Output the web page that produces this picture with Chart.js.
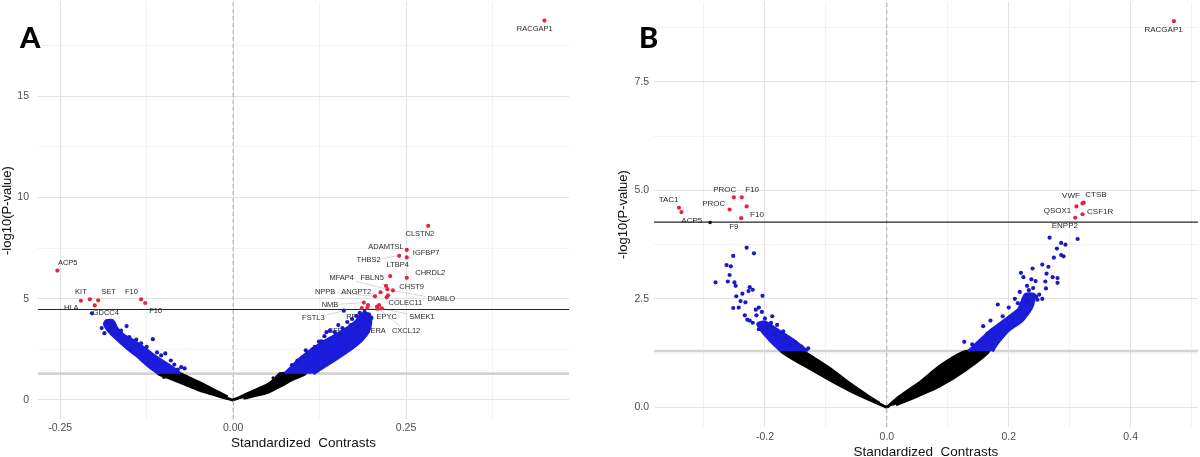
<!DOCTYPE html>
<html>
<head>
<meta charset="utf-8">
<script src="https://cdn.jsdelivr.net/npm/chart.js@4.4.1/dist/chart.umd.min.js"></script>
<style>
html,body{margin:0;padding:0;background:#fff;}
#wrap{position:relative;width:1200px;height:457px;overflow:hidden;}
.panel{position:absolute;top:0;width:600px;height:457px;}
.tag{position:absolute;top:22px;font:900 29px/29px Lato,"Open Sans","DejaVu Sans",sans-serif;color:#000;}
</style>
</head>
<body>
<div id="wrap">
  <div class="panel" style="left:0"><canvas id="cA" width="600" height="457"></canvas></div>
  <div class="panel" style="left:600px"><canvas id="cB" width="600" height="457"></canvas></div>
  <div class="tag" style="left:20px">A</div>
  <div class="tag" style="left:639px">B</div>
</div>
<script>
// ---------- panel A ----------
const aXRange = [-0.282, 0.4855];
const aYRange = [-0.94, 19.65];
const aXGrid = [-0.25, -0.125, 0, 0.125, 0.25, 0.375];
const aXTicks = [-0.25, 0, 0.25];
const aXTickText = ['-0.25', '0.00', '0.25'];
const aYGrid = [0, 2.5, 5, 7.5, 10, 12.5, 15, 17.5];
const aYTicks = [0, 5, 10, 15];
const aYTickText = ['0', '5', '10', '15'];
const aSigLine = 4.47;
const aNomLine = 1.3;
const aRed = [[0.45,18.74],[-0.254,6.39],[-0.220,4.90],[-0.207,4.97],[-0.200,4.67],[-0.195,4.92],[-0.133,4.97],[-0.127,4.79],
  [0.282,8.6],[0.251,7.41],[0.240,7.12],[0.251,7.04],[0.227,6.12],[0.251,6.03],[0.221,5.63],[0.223,5.47],[0.231,5.41],
  [0.224,5.17],[0.222,5.07],[0.213,5.32],[0.205,5.12],[0.189,4.81],[0.195,4.69],[0.186,4.54],[0.194,4.55],[0.208,4.61],
  [0.211,4.68],[0.215,4.53],[0.209,4.51]];
const aBlue = [[-0.204,4.28],[-0.183,3.87],[-0.178,3.8],[-0.176,3.6],[-0.18,3.5],[-0.172,3.75],[-0.154,3.65],[-0.162,3.42],
  [-0.116,3.0],[-0.14,2.98],[-0.133,2.8],[-0.125,2.62],[-0.098,2.3],[-0.11,2.35],[-0.104,2.2],[-0.09,1.95],[-0.085,1.75],
  [-0.075,1.62],[-0.07,1.56],[-0.08,1.5],[-0.15,3.1],[-0.166,3.25],[-0.186,3.3],[-0.19,3.55],
  [0.124,2.88],[0.16,4.41],[0.152,3.7],[0.14,3.42],[0.132,3.15],[0.118,2.62],[0.105,2.45],[0.1,2.1],[0.093,1.95],
  [0.085,1.72],[0.165,3.85],[0.172,4.0],[0.178,4.15],[0.183,4.3],[0.19,4.35],[0.194,4.22],[0.188,4.05],[0.158,3.55],
  [0.147,3.35],[0.17,3.7],[0.155,3.2],[0.18,3.6],[0.108,2.2],[0.115,2.5],[0.128,2.9],[0.135,3.35],[0.2,4.05],[0.196,3.95]];
const aBlack = [[-0.1,1.12],[0.07,1.24],[0.058,1.08]];
// dense clouds traced as outlines
const aBlueCloudL = [[-0.108,1.3],[-0.125,1.75],[-0.14,2.2],[-0.155,2.6],[-0.168,3.0],[-0.18,3.4],[-0.186,3.75],[-0.183,3.92],
  [-0.174,3.92],[-0.168,3.55],[-0.158,3.2],[-0.145,2.95],[-0.128,2.55],[-0.11,2.1],[-0.092,1.7],[-0.076,1.3]];
const aBlueCloudR = [[0.075,1.3],[0.082,1.55],[0.092,1.9],[0.106,2.3],[0.125,2.75],[0.145,3.15],[0.165,3.55],[0.178,3.9],
  [0.186,4.25],[0.197,4.25],[0.199,3.85],[0.196,3.4],[0.186,2.95],[0.17,2.5],[0.146,1.95],[0.116,1.3]];
const aBlackCloudL = [[0,0],[-0.015,0.13],[-0.03,0.29],[-0.05,0.5],[-0.07,0.78],[-0.09,1.05],[-0.108,1.3],[-0.077,1.3],
  [-0.065,1.12],[-0.05,0.88],[-0.035,0.62],[-0.02,0.36],[-0.008,0.15]];
const aBlackCloudR = [[0,0],[0.012,0.17],[0.03,0.45],[0.05,0.76],[0.06,1.02],[0.068,1.3],[0.104,1.3],[0.085,1.0],
  [0.07,0.72],[0.05,0.38],[0.03,0.2],[0.015,0.08]];
// label text, label x, label y, [point x, point y for a connector]
const aLabels = [
  ['RACGAP1',0.436,18.32],['ACP5',-0.239,6.75],['KIT',-0.220,5.32],['SET',-0.180,5.32],['F10',-0.147,5.35],
  ['HLA',-0.234,4.53],['GDCC4',-0.184,4.28],['F10',-0.112,4.39],['CLSTN2',0.270,8.2],['ADAMTSL',0.221,7.54],
  ['IGFBP7',0.279,7.27],['THBS2',0.196,6.9,0.239,7.12],['LTBP4',0.238,6.65],['CHRDL2',0.285,6.29],
  ['MFAP4',0.157,6.04,0.222,5.47],['FBLN5',0.201,6.01,0.221,5.63],['CHST9',0.258,5.6],
  ['NPPB',0.133,5.35,0.205,5.12],['ANGPT2',0.178,5.35,0.208,5.2],['DIABLO',0.301,4.97,0.231,5.41],
  ['COLEC11',0.249,4.77],['NMB',0.140,4.69,0.189,4.81],['FSTL3',0.116,4.03,0.16,4.41],['RPL14',0.180,4.08],
  ['EPYC',0.222,4.08,0.195,4.69],['SMEK1',0.273,4.08,0.215,4.53],['SFRP4',0.155,3.41],
  ['KERA',0.206,3.41,0.19,4.0],['CXCL12',0.25,3.41,0.211,4.5]];

// ---------- panel B ----------
const bXRange = [-0.382, 0.5103];
const bYRange = [-0.453, 9.34];
const bXGrid = [-0.3, -0.2, -0.1, 0, 0.1, 0.2, 0.3, 0.4, 0.5];
const bXTicks = [-0.2, 0, 0.2, 0.4];
const bXTickText = ['-0.2', '0.0', '0.2', '0.4'];
const bYGrid = [0, 1.25, 2.5, 3.75, 5, 6.25, 7.5, 8.75];
const bYTicks = [0, 2.5, 5, 7.5];
const bYTickText = ['0.0', '2.5', '5.0', '7.5'];
const bSigLine = 4.27;
const bNomLine = 1.3;
const bRed = [[0.471,8.90],[-0.341,4.60],[-0.337,4.50],[-0.251,4.84],[-0.238,4.84],[-0.258,4.56],[-0.230,4.63],
  [-0.239,4.36],[0.311,4.63],[0.321,4.70],[0.323,4.72],[0.321,4.45],[0.309,4.37]];
const bBlack = [[-0.290,4.26]];
const bBlue = [[-0.230,3.68],[-0.218,3.55],[-0.252,3.49],[-0.263,3.28],[-0.256,3.25],[-0.258,3.05],[-0.281,2.88],
  [-0.261,2.90],[-0.250,2.88],[-0.248,2.80],[-0.225,2.77],[-0.220,2.71],[-0.237,2.62],[-0.227,2.68],[-0.247,2.56],
  [-0.252,2.29],[-0.232,2.42],[-0.204,2.57],[-0.233,2.12],[-0.229,2.02],[-0.214,2.12],[-0.188,2.10],[-0.225,2.0],
  [-0.21,2.3],[-0.215,2.25],[-0.205,2.2],[-0.24,2.45],[-0.243,2.3],[-0.19,1.95],[-0.2,2.05],[-0.195,1.85],[-0.18,1.9],
  [-0.17,1.75],[-0.165,1.6],[-0.129,1.36],[-0.14,1.4],[-0.15,1.5],[-0.16,1.45],[-0.185,1.7],[-0.21,1.8],[-0.22,1.95],
  [0.267,3.91],[0.286,3.79],[0.293,3.75],[0.313,3.88],[0.279,3.66],[0.286,3.51],[0.290,3.48],[0.274,3.45],[0.239,3.20],
  [0.255,3.29],[0.265,3.24],[0.262,3.08],[0.280,2.98],[0.280,2.87],[0.224,3.0],[0.237,2.95],[0.244,2.91],[0.220,3.10],
  [0.261,2.74],[0.218,2.66],[0.247,2.48],[0.182,2.37],[0.158,1.87],[0.127,1.51],[0.25,2.6],[0.23,2.8],[0.245,2.55],
  [0.2,2.3],[0.19,2.1],[0.21,2.5],[0.233,2.7],[0.255,2.5],[0.165,1.7],[0.14,1.45],[0.272,3.0],[0.26,2.9],[0.23,2.45],
  [0.24,2.75],[0.215,2.4],[0.17,2.0]];
const bBlueCloudL = [[-0.173,1.29],[-0.192,1.55],[-0.203,1.72],[-0.212,1.92],[-0.2,1.97],[-0.181,1.8],[-0.154,1.56],[-0.13,1.29]];
const bBlueCloudR = [[0.134,1.29],[0.151,1.52],[0.173,1.8],[0.194,2.02],[0.216,2.26],[0.227,2.6],[0.242,2.6],[0.238,2.31],
  [0.222,2.0],[0.2,1.78],[0.181,1.47],[0.173,1.29]];
const bBlackCloudL = [[0,0],[-0.045,0.28],[-0.089,0.6],[-0.132,0.94],[-0.173,1.29],[-0.138,1.29],[-0.116,1.1],[-0.089,0.85],
  [-0.062,0.56],[-0.034,0.29],[-0.012,0.09]];
const bBlackCloudR = [[0,0],[0.02,0.24],[0.053,0.56],[0.085,0.93],[0.115,1.2],[0.129,1.29],[0.167,1.29],[0.129,0.86],
  [0.085,0.48],[0.042,0.21],[0.015,0.06]];
const bLabels = [
  ['RACGAP1',0.454,8.70],['TAC1',-0.358,4.78],['PROC',-0.266,5.01],['F10',-0.221,5.01],['PROC',-0.284,4.69],
  ['F10',-0.213,4.44],['ACP5',-0.320,4.31],['F9',-0.251,4.15],['VWF',0.302,4.87],['CTSB',0.343,4.90],
  ['QSOX1',0.280,4.53],['CSF1R',0.350,4.50],['ENPP2',0.292,4.18]];

const FONT = '"Liberation Sans", Arial, sans-serif';
const RED = '#e2263d';
const BLUE = '#1c1cdc';
const BLUE_DOT = '#1a1ac4';

const pts = arr => arr.map(p => ({x: p[0], y: p[1]}));
const near = (v, list) => list.some(t => Math.abs(t - v) < 1e-9);

function dots(arr, color, r) {
  return {data: pts(arr), backgroundColor: color, borderWidth: 0, pointRadius: r, pointHoverRadius: r};
}
function cloud(arr, color) {
  return {data: pts(arr), showLine: true, fill: 'shape', backgroundColor: color, borderColor: color,
    borderWidth: 3, borderJoinStyle: 'round', pointRadius: 0, tension: 0.2};
}
function line(a, b, color, w, dash) {
  return {data: [{x: a[0], y: a[1]}, {x: b[0], y: b[1]}], showLine: true, borderColor: color,
    borderWidth: w, borderDash: dash || [], pointRadius: 0, fill: false};
}

const geneLabels = {
  id: 'geneLabels',
  beforeDatasetsDraw(chart, args, opts) {
    const {ctx, scales: {x, y}} = chart;
    ctx.save();
    ctx.font = opts.font;
    ctx.textAlign = 'center';
    ctx.textBaseline = 'middle';
    opts.items.forEach(l => {
      const lx = x.getPixelForValue(l[1]), ly = y.getPixelForValue(l[2]);
      if (l.length > 3) {
        const tx = x.getPixelForValue(l[3]), ty = y.getPixelForValue(l[4]);
        const w = ctx.measureText(l[0]).width / 2 + 2, h = 5;
        const dx = tx - lx, dy = ty - ly;
        const t = Math.min(dx ? w / Math.abs(dx) : 1e9, dy ? h / Math.abs(dy) : 1e9);
        if (t < 1) {
          ctx.strokeStyle = '#c4c4c4';
          ctx.lineWidth = 0.7;
          ctx.beginPath();
          ctx.moveTo(lx + dx * t, ly + dy * t);
          ctx.lineTo(tx, ty);
          ctx.stroke();
        }
      }
      ctx.fillStyle = '#2a2a2a';
      ctx.fillText(l[0], lx, ly);
    });
    ctx.restore();
  }
};

function panel(id, d, lay) {
  const datasets = [
    dots(d.red, RED, 2.1),
    dots(d.black, '#111', 1.8),
    dots(d.blue, BLUE_DOT, 2.1),
    cloud(d.blueL, BLUE), cloud(d.blueR, BLUE),
    cloud(d.blackL, '#000'), cloud(d.blackR, '#000'),
    line([d.xr[0], d.sig], [d.xr[1], d.sig], '#262626', 1.1),
    line([d.xr[0], d.nom], [d.xr[1], d.nom], '#d3d3d3', 2.6),
    line([0, d.yr[0]], [0, d.yr[1]], '#9c9c9c', 0.8, [4, 3])
  ];
  new Chart(document.getElementById(id), {
    type: 'scatter',
    data: {datasets},
    options: {
      responsive: false, animation: false, events: [],
      layout: {padding: lay.pad},
      plugins: {legend: {display: false}, tooltip: {enabled: false},
        geneLabels: {items: d.labels, font: lay.labelFont}},
      scales: {
        x: {
          type: 'linear', min: d.xr[0], max: d.xr[1],
          afterBuildTicks: s => { s.ticks = d.xGrid.map(v => ({value: v})); },
          afterFit: s => { s.height = lay.xh; s.paddingLeft = 0; s.paddingRight = 0; },
          border: {display: false},
          grid: {drawTicks: false, color: c => near(c.tick.value, d.xTicks) ? '#e2e2e2' : '#efefef',
                 lineWidth: c => near(c.tick.value, d.xTicks) ? 1 : 0.8},
          ticks: {padding: lay.xtp, color: '#4d4d4d', font: {family: FONT, size: 10.5}, maxRotation: 0, autoSkip: false,
                  callback: v => near(v, d.xTicks) ? d.xText[d.xTicks.findIndex(t => Math.abs(t - v) < 1e-9)] : ''},
          title: {display: true, text: 'Standardized  Contrasts', color: '#111', font: {family: FONT, size: 13.5},
                  padding: {top: 0, bottom: lay.xtitle}}
        },
        y: {
          type: 'linear', min: d.yr[0], max: d.yr[1],
          afterBuildTicks: s => { s.ticks = d.yGrid.map(v => ({value: v})); },
          afterFit: s => { s.width = lay.yw; s.paddingTop = 0; s.paddingBottom = 0; },
          border: {display: false},
          grid: {drawTicks: false, color: c => near(c.tick.value, d.yTicks) ? '#e2e2e2' : '#efefef',
                 lineWidth: c => near(c.tick.value, d.yTicks) ? 1 : 0.8},
          ticks: {padding: lay.ytp, color: '#4d4d4d', font: {family: FONT, size: 10.5}, autoSkip: false,
                  callback: v => near(v, d.yTicks) ? d.yText[d.yTicks.findIndex(t => Math.abs(t - v) < 1e-9)] : ''},
          title: {display: true, text: '-log10(P-value)', color: '#111', font: {family: FONT, size: 13},
                  padding: {top: lay.ytitle, bottom: 0}}
        }
      }
    },
    plugins: [geneLabels]
  });
}

panel('cA', {
  xr: aXRange, yr: aYRange, xGrid: aXGrid, xTicks: aXTicks, xText: aXTickText,
  yGrid: aYGrid, yTicks: aYTicks, yText: aYTickText, sig: aSigLine, nom: aNomLine,
  red: aRed, blue: aBlue, black: aBlack, blueL: aBlueCloudL, blueR: aBlueCloudR,
  blackL: aBlackCloudL, blackR: aBlackCloudR, labels: aLabels
}, {pad: {left: 0, right: 31, top: 2, bottom: 0}, yw: 38, xh: 38, xtp: 3, ytp: 9, xtitle: 6, ytitle: 0,
    labelFont: '7.5px ' + FONT});

panel('cB', {
  xr: bXRange, yr: bYRange, xGrid: bXGrid, xTicks: bXTicks, xText: bXTickText,
  yGrid: bYGrid, yTicks: bYTicks, yText: bYTickText, sig: bSigLine, nom: bNomLine,
  red: bRed, blue: bBlue, black: bBlack, blueL: bBlueCloudL, blueR: bBlueCloudR,
  blackL: bBlackCloudL, blackR: bBlackCloudR, labels: bLabels
}, {pad: {left: 0, right: 0, top: 1, bottom: -4}, yw: 54, xh: 34, xtp: 4, ytp: 5, xtitle: 1, ytitle: 16,
    labelFont: '8px ' + FONT});
</script>
</body>
</html>
